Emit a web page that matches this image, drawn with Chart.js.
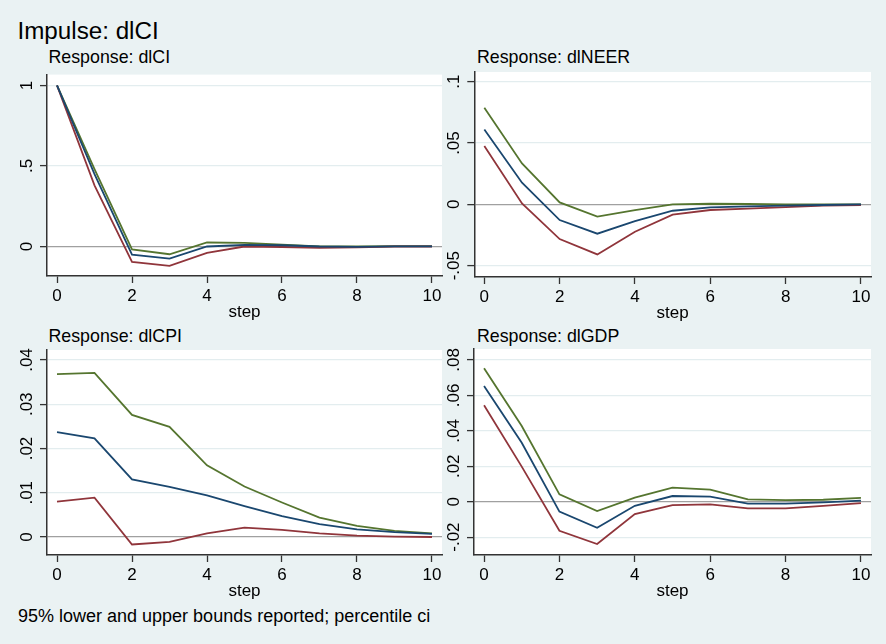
<!DOCTYPE html>
<html>
<head>
<meta charset="utf-8">
<script src="https://cdn.jsdelivr.net/npm/chart.js@4.4.1/dist/chart.umd.min.js"></script>
<style>
  html, body { margin: 0; padding: 0; }
  body { width: 886px; height: 644px; background: #eaf2f3; position: relative; overflow: hidden;
         font-family: "Liberation Sans", Arial, sans-serif; color: #000; }
  .txt { position: absolute; line-height: 1; white-space: nowrap; }
  .panel { position: absolute; }
  canvas { display: block; }
</style>
</head>
<body>
<div class="txt" style="left:17.5px; top:18.7px; font-size:24.2px;">Impulse: dlCI</div>
<div class="txt" style="left:48.5px; top:49.2px; font-size:17.8px;">Response: dlCI</div>
<div class="txt" style="left:477px; top:48.9px; font-size:17.8px;">Response: dlNEER</div>
<div class="txt" style="left:48.5px; top:328.2px; font-size:17.8px;">Response: dlCPI</div>
<div class="txt" style="left:477px; top:328.2px; font-size:17.8px;">Response: dlGDP</div>
<div class="txt" style="left:18px; top:606.8px; font-size:18px;">95% lower and upper bounds reported; percentile ci</div>

<div class="panel" style="left:8px; top:59px;"><canvas id="p1" width="438" height="264"></canvas></div>
<div class="panel" style="left:435px; top:60px;"><canvas id="p2" width="440" height="264"></canvas></div>
<div class="panel" style="left:8px; top:338px;"><canvas id="p3" width="438" height="264"></canvas></div>
<div class="panel" style="left:435px; top:337px;"><canvas id="p4" width="440" height="265"></canvas></div>

<script>
// horizon
const steps = [0, 1, 2, 3, 4, 5, 6, 7, 8, 9, 10];
const stepTicks = [0, 2, 4, 6, 8, 10];

// Response: dlCI
const ciIrf   = [1, 0.45, -0.05, -0.075, 0.0, 0.01, 0.008, 0.0, -0.002, 0.001, 0.001];
const ciLower = [1, 0.38, -0.095, -0.12, -0.04, 0.0, -0.003, -0.008, -0.005, 0.0, 0.0];
const ciUpper = [1, 0.48, -0.018, -0.048, 0.025, 0.022, 0.012, 0.001, 0.0, 0.002, 0.002];
const ciTicks = [0, 0.5, 1];
const ciTickLabels = ["0", ".5", "1"];

// Response: dlNEER
const neerIrf   = [0.0611, 0.0177, -0.0128, -0.0239, -0.0136, -0.0052, -0.0024, -0.0016, -0.001, -0.0005, 0.0];
const neerLower = [0.0476, 0.0008, -0.0283, -0.0408, -0.0223, -0.0084, -0.0046, -0.0035, -0.0022, -0.001, -0.0005];
const neerUpper = [0.0788, 0.0334, 0.0016, -0.010, -0.0046, 0.0, 0.0005, 0.0003, 0.0, 0.0, 0.0];
const neerTicks = [-0.05, 0, 0.05, 0.1];
const neerTickLabels = ["-.05", "0", ".05", ".1"];

// Response: dlCPI
const cpiIrf   = [0.0237, 0.0223, 0.013, 0.0113, 0.0094, 0.0070, 0.0047, 0.0029, 0.0017, 0.0011, 0.0007];
const cpiLower = [0.008, 0.0089, -0.0017, -0.0011, 0.0008, 0.0021, 0.0016, 0.0008, 0.0003, 0.0001, 0.0];
const cpiUpper = [0.0368, 0.0371, 0.0276, 0.0249, 0.0162, 0.0114, 0.0078, 0.0044, 0.0025, 0.0014, 0.0008];
const cpiTicks = [0, 0.01, 0.02, 0.03, 0.04];
const cpiTickLabels = ["0", ".01", ".02", ".03", ".04"];

// Response: dlGDP
const gdpIrf   = [0.0653, 0.0333, -0.0056, -0.0147, -0.0023, 0.0032, 0.0028, -0.0011, -0.0011, -0.0004, 0.0006];
const gdpLower = [0.0544, 0.0198, -0.0164, -0.0239, -0.007, -0.0019, -0.0015, -0.0038, -0.0038, -0.0024, -0.0008];
const gdpUpper = [0.0753, 0.0427, 0.0041, -0.0053, 0.0023, 0.0079, 0.0068, 0.0013, 0.0009, 0.0011, 0.0021];
const gdpTicks = [-0.02, 0, 0.02, 0.04, 0.06, 0.08];
const gdpTickLabels = ["-.02", "0", ".02", ".04", ".06", ".08"];

const FONT = '"Liberation Sans", Arial, sans-serif';
const AXIS = '#333333';

const measure = document.createElement('canvas').getContext('2d');
measure.font = '17px ' + FONT;
function widest(labels) {
  return Math.max(...labels.map(l => measure.measureText(l).width));
}

const whiteArea = {
  id: 'whiteArea',
  beforeDraw(chart) {
    const a = chart.chartArea, c = chart.ctx;
    c.save();
    c.fillStyle = '#ffffff';
    c.fillRect(a.left, a.top, a.right - a.left, a.bottom - a.top);
    c.restore();
  }
};

function pts(vals) {
  return steps.map((s, i) => ({ x: s, y: vals[i] }));
}

function makePanel(id, irf, lower, upper, yTicks, yLabels, yMin, yMax, yWidth) {
  const pad = 12.5 - widest(yLabels) / 2;
  new Chart(document.getElementById(id), {
    type: 'line',
    data: {
      datasets: [
        { data: pts(irf),   borderColor: '#1a476f' },
        { data: pts(lower), borderColor: '#90353b' },
        { data: pts(upper), borderColor: '#55752f' }
      ]
    },
    options: {
      responsive: false,
      animation: false,
      layout: { padding: { top: 12, right: 4, left: 0, bottom: 0 } },
      elements: {
        line: { borderWidth: 1.8, tension: 0, fill: false },
        point: { radius: 0 }
      },
      plugins: { legend: { display: false }, tooltip: { enabled: false } },
      scales: {
        x: {
          type: 'linear',
          min: -0.2667, max: 10.2667,
          afterBuildTicks: s => { s.ticks = stepTicks.map(v => ({ value: v })); },
          afterFit: s => { s.height = 47; },
          ticks: { autoSkip: false, padding: 3, color: '#000', font: { family: FONT, size: 17 } },
          grid: { drawOnChartArea: false, drawTicks: true, tickLength: 7, tickColor: AXIS, tickWidth: 1.3 },
          border: { display: true, color: AXIS, width: 1.5 },
          title: { display: true, text: 'step', color: '#000', padding: 0, font: { family: FONT, size: 17 } }
        },
        y: {
          type: 'linear',
          min: yMin, max: yMax,
          afterBuildTicks: s => { s.ticks = yTicks.map(v => ({ value: v })); },
          afterFit: s => { s.width = yWidth; },
          ticks: {
            autoSkip: false, minRotation: 90, maxRotation: 90, crossAlign: 'center', padding: pad,
            color: '#000', font: { family: FONT, size: 17 },
            callback: (v, i) => yLabels[i]
          },
          grid: {
            drawTicks: true, tickLength: 7, tickColor: AXIS, tickWidth: 1.3,
            color: c => (c.tick && c.tick.value === 0) ? '#a0a0a0' : '#e3edef',
            lineWidth: c => (c.tick && c.tick.value === 0) ? 1.3 : 1.2
          },
          border: { display: true, color: AXIS, width: 1.5 }
        }
      }
    },
    plugins: [whiteArea]
  });
}

makePanel('p1', ciIrf, ciLower, ciUpper, ciTicks, ciTickLabels, -0.183, 1.067, 39);
makePanel('p2', neerIrf, neerLower, neerUpper, neerTicks, neerTickLabels, -0.0592, 0.1079, 39.3);
makePanel('p3', cpiIrf, cpiLower, cpiUpper, cpiTicks, cpiTickLabels, -0.00407, 0.04226, 39);
makePanel('p4', gdpIrf, gdpLower, gdpUpper, gdpTicks, gdpTickLabels, -0.0301, 0.0862, 39);
</script>
</body>
</html>
